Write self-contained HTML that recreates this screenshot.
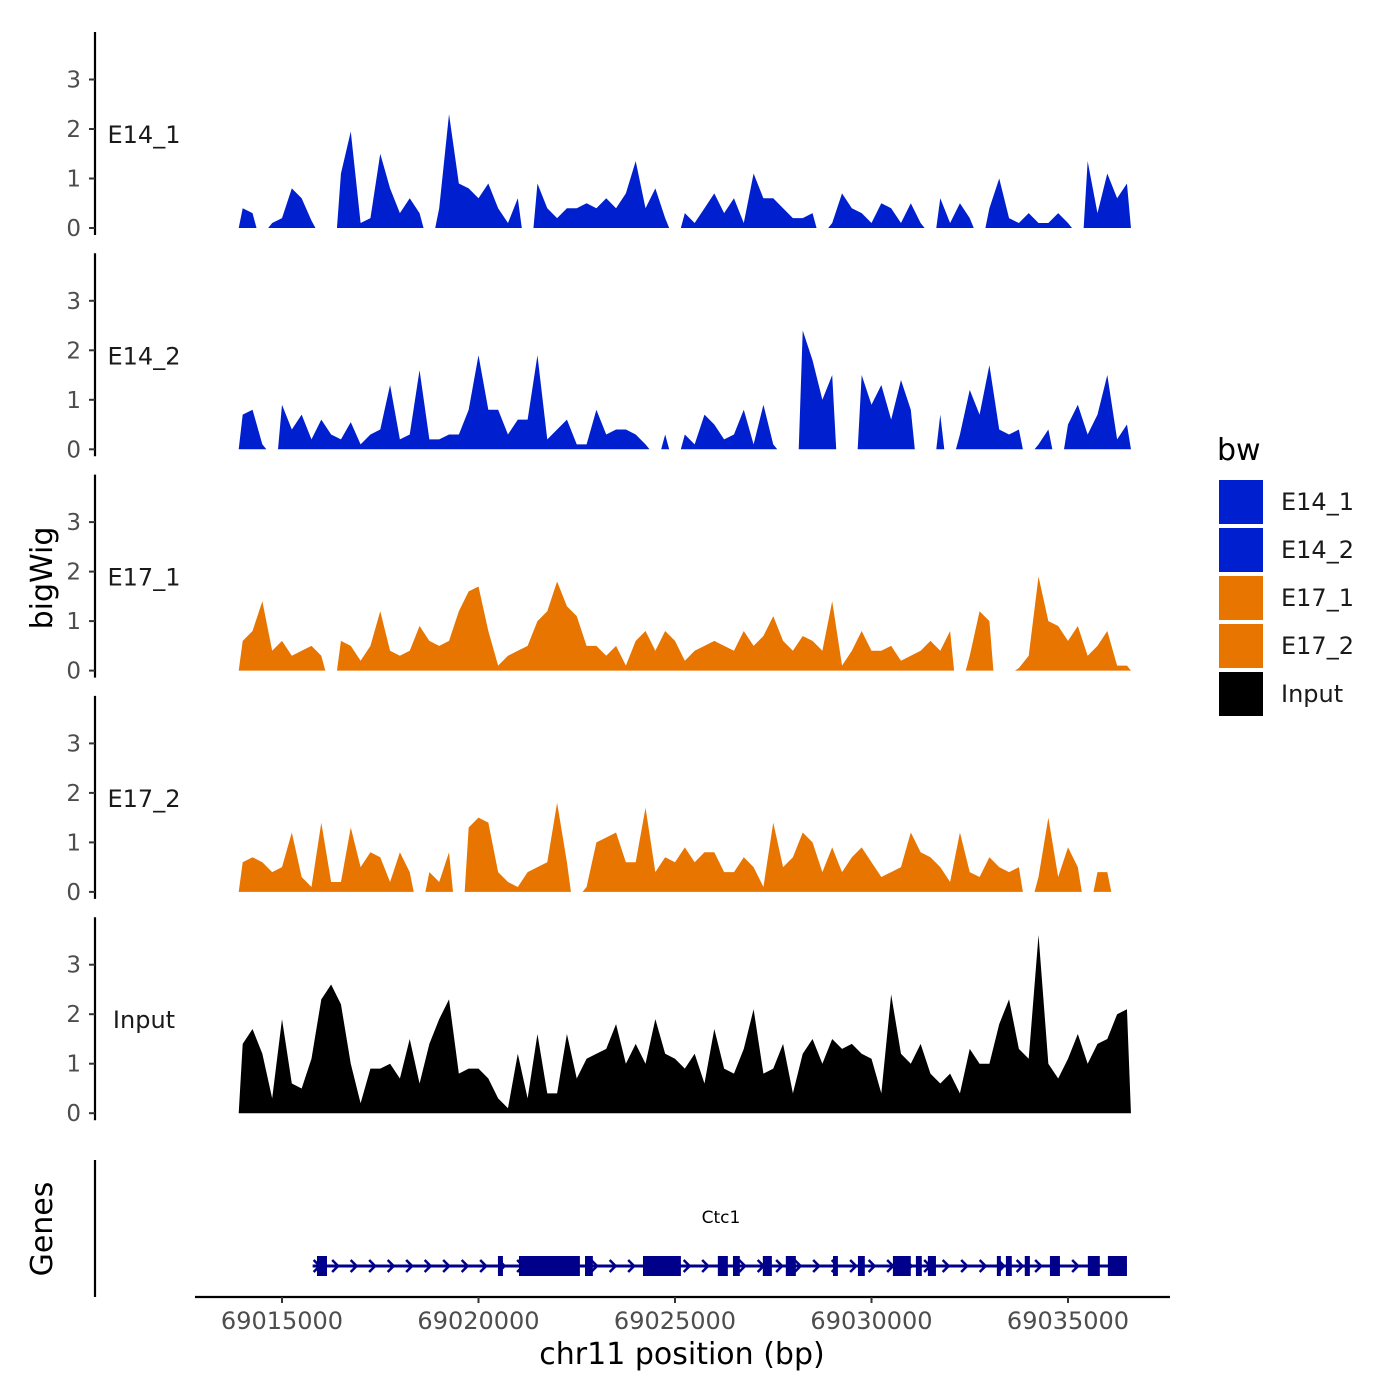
<!DOCTYPE html>
<html><head><meta charset="utf-8"><style>body{margin:0;background:#fff}svg{display:block}text{font-family:"DejaVu Sans","Liberation Sans",sans-serif}</style></head>
<body>
<svg id="chart" width="1400" height="1400" viewBox="0 0 1400 1400"></svg>
<script>
const trackNames=["E14_1","E14_2","E17_1","E17_2","Input"];
const trackColors=["#0020CF","#0020CF","#E87500","#E87500","#000000"];
const startBp=69014000, stepBp=250;
const e14_1=[0.4,0.3,null,0.1,0.2,0.8,0.6,0.15,null,null,1.1,1.95,0.1,0.2,1.5,0.8,0.3,0.6,0.3,null,0.4,2.3,0.9,0.8,0.6,0.9,0.4,0.1,0.6,null,0.9,0.4,0.2,0.4,0.4,0.5,0.4,0.6,0.4,0.7,1.35,0.4,0.8,0.2,null,0.3,0.1,0.4,0.7,0.3,0.6,0.1,1.1,0.6,0.6,0.4,0.2,0.2,0.3,null,0.1,0.7,0.4,0.3,0.1,0.5,0.4,0.1,0.5,0.1,null,0.6,0.1,0.5,0.2,null,0.4,1.0,0.2,0.1,0.3,0.1,0.1,0.3,0.1,null,1.35,0.3,1.1,0.6,0.9];
const e14_2=[0.7,0.8,0.1,null,0.9,0.4,0.7,0.2,0.6,0.3,0.2,0.55,0.1,0.3,0.4,1.3,0.2,0.3,1.6,0.2,0.2,0.3,0.3,0.8,1.9,0.8,0.8,0.3,0.6,0.6,1.9,0.2,0.4,0.6,0.1,0.1,0.8,0.3,0.4,0.4,0.3,0.1,null,0.3,null,0.3,0.1,0.7,0.5,0.2,0.3,0.8,0.1,0.9,0.1,null,null,2.4,1.8,1.0,1.5,null,null,1.5,0.9,1.3,0.6,1.4,0.8,null,null,0.7,null,0.3,1.2,0.7,1.7,0.4,0.3,0.4,null,0.1,0.4,null,0.5,0.9,0.3,0.7,1.5,0.2,0.5];
const e17_1=[0.6,0.8,1.4,0.4,0.6,0.3,0.4,0.5,0.3,null,0.6,0.5,0.2,0.5,1.2,0.4,0.3,0.4,0.9,0.6,0.5,0.6,1.2,1.6,1.7,0.8,0.1,0.3,0.4,0.5,1.0,1.2,1.8,1.3,1.1,0.5,0.5,0.3,0.5,0.1,0.6,0.8,0.4,0.8,0.6,0.2,0.4,0.5,0.6,0.5,0.4,0.8,0.5,0.7,1.1,0.6,0.4,0.7,0.6,0.4,1.4,0.1,0.4,0.8,0.4,0.4,0.5,0.2,0.3,0.4,0.6,0.4,0.8,null,0.3,1.2,1.0,null,null,0.05,0.3,1.9,1.0,0.9,0.6,0.9,0.3,0.5,0.8,0.1,0.1];
const e17_2=[0.6,0.7,0.6,0.4,0.5,1.2,0.3,0.1,1.4,0.2,0.2,1.3,0.5,0.8,0.7,0.2,0.8,0.4,null,0.4,0.2,0.8,null,1.3,1.5,1.4,0.4,0.2,0.1,0.4,0.5,0.6,1.8,0.6,null,0.1,1.0,1.1,1.2,0.6,0.6,1.7,0.4,0.7,0.6,0.9,0.6,0.8,0.8,0.4,0.4,0.7,0.5,0.1,1.4,0.5,0.7,1.2,1.0,0.4,0.9,0.4,0.7,0.9,0.6,0.3,0.4,0.5,1.2,0.8,0.7,0.5,0.2,1.2,0.4,0.3,0.7,0.5,0.4,0.5,null,0.3,1.5,0.3,0.9,0.5,null,0.4,0.4,null,null];
const input=[1.4,1.7,1.2,0.3,1.9,0.6,0.5,1.1,2.3,2.6,2.2,1.0,0.2,0.9,0.9,1.0,0.7,1.5,0.6,1.4,1.9,2.3,0.8,0.9,0.9,0.7,0.3,0.1,1.2,0.3,1.6,0.4,0.4,1.6,0.7,1.1,1.2,1.3,1.8,1.0,1.4,1.0,1.9,1.2,1.1,0.9,1.2,0.6,1.7,0.9,0.8,1.3,2.1,0.8,0.9,1.4,0.4,1.2,1.5,1.0,1.5,1.3,1.4,1.2,1.1,0.4,2.4,1.2,1.0,1.4,0.8,0.6,0.8,0.4,1.3,1.0,1.0,1.8,2.3,1.3,1.1,3.6,1.0,0.7,1.1,1.6,1.0,1.4,1.5,2.0,2.1];
const trackData=[e14_1,e14_2,e17_1,e17_2,input];
const yTicks=[0,1,2,3];
const xTicks=[69015000,69020000,69025000,69030000,69035000];
const geneStart=69015780, geneEnd=69036500;
const exonStarts=[69015890,69020495,69021030,69022710,69024185,69026090,69026475,69027235,69027820,69029020,69029655,69030545,69031130,69031435,69033190,69033420,69033900,69034540,69035505,69036015];
const exonEnds=[69016145,69020622,69022580,69022910,69025150,69026345,69026650,69027465,69028075,69029145,69029830,69031000,69031280,69031640,69033290,69033570,69034030,69034795,69035810,69036500];

const NS="http://www.w3.org/2000/svg";
const svg=document.getElementById('chart');
function mk(tag,attrs,parent){const e=document.createElementNS(NS,tag);for(const k in attrs)e.setAttribute(k,attrs[k]);(parent||svg).appendChild(e);return e;}
const xs=bp=>282+(bp-69015000)*0.0393;
const panelBase=i=>228+i*221.3;
const ys=(i,v)=>panelBase(i)-v*49.5;

trackNames.forEach((name,i)=>{
  const g=mk('g',{});
  
  
  const top=panelBase(i)-196;
  const ax=mk('line',{x1:95,x2:95,y1:top,y2:panelBase(i)+7,stroke:'#000','stroke-width':2.2},g);
  
  
  yTicks.forEach(t=>{
    const y=ys(i,t);
    const tk=mk('line',{x1:89,x2:95,y1:y,y2:y,stroke:'#333','stroke-width':2},g);
    
    
    const tl=mk('text',{x:81,y:y+8,'text-anchor':'end','font-size':23,fill:'#4d4d4d'},g);
    tl.textContent=t;
    
    
  });
  const lb=mk('text',{x:144,y:ys(i,2)+14,'text-anchor':'middle','font-size':24,fill:'#1a1a1a'},g);
  lb.textContent=name;
  
  
  const data=trackData[i];
  let seg=[];
  const segs=[];
  data.forEach((v,k)=>{if(v===null){if(seg.length)segs.push(seg);seg=[];}else seg.push(k);});
  if(seg.length)segs.push(seg);
  segs.forEach(s=>{
    const x0=xs(startBp+stepBp*s[0])-4, x1=xs(startBp+stepBp*s[s.length-1])+4;
    let d='M'+x0+','+panelBase(i);
    s.forEach(k=>{d+='L'+xs(startBp+stepBp*k)+','+ys(i,data[k]);});
    d+='L'+x1+','+panelBase(i)+'Z';
    const p=mk('path',{d:d,fill:trackColors[i]},g);
    
    
  });
});

const yt=mk('text',{x:0,y:0,'font-size':30,'text-anchor':'middle',transform:'translate(52,578) rotate(-90)'});
yt.textContent='bigWig';



const gg=mk('g',{});


const gax=mk('line',{x1:95,x2:95,y1:1160,y2:1297,stroke:'#000','stroke-width':2.2},gg);


const gt=mk('text',{x:0,y:0,'font-size':30,'text-anchor':'middle',transform:'translate(52,1229) rotate(-90)'},gg);
gt.textContent='Genes';


const gl=mk('line',{x1:xs(geneStart),x2:xs(geneEnd),y1:1266,y2:1266,stroke:'#00008B','stroke-width':3},gg);


for(let x=xs(geneStart)+4;x<xs(geneEnd);x+=18.5){
  const c=mk('path',{d:`M${x-3},${1260}L${x+3},${1266}L${x-3},${1272}`,stroke:'#00008B','stroke-width':2.5,fill:'none'},gg);
  
  
}
exonStarts.forEach((s,k)=>{
  const r=mk('rect',{x:xs(s),y:1256,width:Math.max(4,xs(exonEnds[k])-xs(s)),height:20,fill:'#00008B'},gg);
  
  
});
const gn=mk('text',{x:721,y:1223,'text-anchor':'middle','font-size':17},gg);
gn.textContent='Ctc1';



const xa=mk('line',{x1:195,x2:1170,y1:1297,y2:1297,stroke:'#000','stroke-width':2.2});


xTicks.forEach(t=>{
  const x=xs(t);
  const tk=mk('line',{x1:x,x2:x,y1:1297,y2:1303,stroke:'#333','stroke-width':2});
  
  
  const tl=mk('text',{x:x,y:1329,'text-anchor':'middle','font-size':24,fill:'#4d4d4d'});
  tl.textContent=t;
  
  
});
const xt=mk('text',{x:682,y:1364,'text-anchor':'middle','font-size':30});
xt.textContent='chr11 position (bp)';



const lg=mk('g',{});


const ltt=mk('text',{x:1217,y:460,'font-size':30},lg);
ltt.textContent='bw';


trackNames.forEach((n,i)=>{
  const y=479+i*48;
  const r=mk('rect',{x:1218,y:y,width:46,height:46,fill:trackColors[i],stroke:'#fff','stroke-width':2},lg);
  
  
  const t=mk('text',{x:1281,y:y+31,'font-size':24,fill:'#1a1a1a'},lg);
  t.textContent=n;
  
  
});
</script>
</body></html>
